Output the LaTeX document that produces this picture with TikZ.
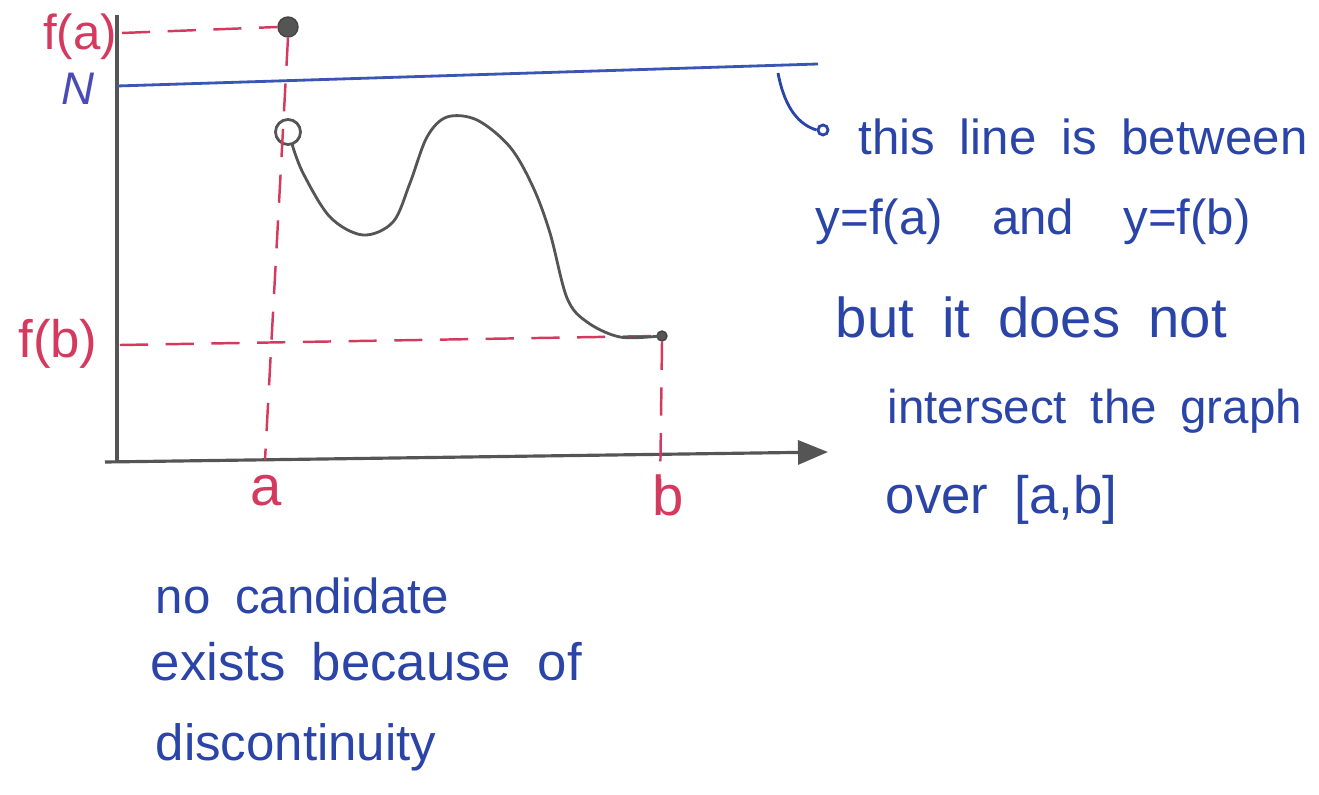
\documentclass[tikz,border=0pt]{standalone}
\usepackage{fontspec}
\setmainfont{Liberation Sans}
\usetikzlibrary{arrows.meta}
\definecolor{ink}{HTML}{2B44A8}
\definecolor{pinkred}{HTML}{D43A5E}
\definecolor{pencil}{HTML}{555555}
\definecolor{nblue}{HTML}{3A55B5}
\definecolor{nlabel}{HTML}{4B4BB8}
\newcommand{\handsize}[1]{\fontsize{#1}{#1}\selectfont\spaceskip=0.5em\relax}
\tikzset{
  guide/.style={pinkred, line width=0.7pt, dash pattern=on 8pt off 5pt},
  axisline/.style={pencil, line width=0.9pt},
  hand/.style={ink, inner sep=0pt, anchor=base west},
  lbl/.style={pinkred, inner sep=0pt, anchor=base},
  dotfull/.style={circle, fill=pencil, draw=pencil!80!black, inner sep=0pt},
}
\begin{document}
\begin{tikzpicture}[x=0.01cm,y=-0.01cm]
\useasboundingbox (0,0) rectangle (1319,794);
% axes
\coordinate (ytop) at (117,15);
\coordinate (ybot) at (117,462);
\coordinate (xl) at (105,462);
\coordinate (xr) at (828,452);
\draw[axisline] (ytop) -- (ybot);
\draw[axisline, -{Triangle[length=0.3cm,width=0.24cm]}] (xl) -- (xr);
% N line
\coordinate (nl) at (117,86);
\coordinate (nr) at (818,64);
\draw[nblue, line width=0.8pt] (nl) -- (nr);
\node[nlabel, inner sep=0pt, anchor=base, font=\fontsize{13}{15}\selectfont\itshape] (N) at (78,104) {N};
% points
\node[dotfull, minimum size=0.2cm] (fa) at (288,27) {};
\node[circle, draw=pencil, line width=0.8pt, fill=white, inner sep=0pt, minimum size=0.25cm] (oc) at (288,132) {};
\node[dotfull, minimum size=0.1cm] (fb) at (662,336) {};
% guide lines
\coordinate (falft) at (122,33);
\coordinate (fblft) at (120,345);
\coordinate (abot) at (265,460);
\coordinate (bbot) at (660,495);
\draw[guide] (falft) -- (fa.west);
\draw[guide] (fa.south) -- (abot);
\draw[guide] (fblft) -- (fb.west);
\draw[guide] (fb.south) -- (bbot);
% labels
\node[lbl, font=\fontsize{14}{16}\selectfont] (lfa) at (80,50) {f(a)};
\node[lbl, font=\fontsize{15}{17}\selectfont] (lfb) at (58,357) {f(b)};
\node[lbl, font=\fontsize{16}{18}\selectfont] (la) at (266,505) {a};
\node[lbl, font=\fontsize{16}{18}\selectfont] (lb) at (668,515) {b};
% curve
\draw[pencil, line width=0.8pt] plot[smooth, tension=0.55] coordinates {
  (292,144) (303,173) (330,217) (363,235) (393,222) (410,183) (427,137)
  (447,117) (477,120) (510,147) (533,187) (550,233) (567,298) (587,322)
  (620,337) (660,336)};
% annotation pointer
\coordinate (pstart) at (778,73);
\node[circle, draw=ink, line width=0.8pt, inner sep=0pt, minimum size=0.1cm] (ptip) at (823,130) {};
\draw[ink, line width=0.8pt] (pstart) .. controls (785,110) and (800,125) .. (ptip.west);
% right text
\node[hand, font=\handsize{14}] (t1) at (858,155) {this line is between};
\node[hand, font=\handsize{14}] (t2) at (815,235) {y=f(a)\ \ and\ \ y=f(b)};
\node[hand, font=\handsize{16}] (t3) at (835,337) {but it does not};
\node[hand, font=\handsize{13.5}] (t4) at (887,423) {intersect the graph};
\node[hand, font=\handsize{15}] (t5) at (885,513) {over [a,b]};
% bottom text
\node[hand, font=\handsize{14}] (b1) at (155,613) {no candidate};
\node[hand, font=\handsize{15}] (b2) at (150,680) {exists because of};
\node[hand, font=\handsize{14.5}] (b3) at (155,760) {discontinuity};
\end{tikzpicture}
\end{document}
